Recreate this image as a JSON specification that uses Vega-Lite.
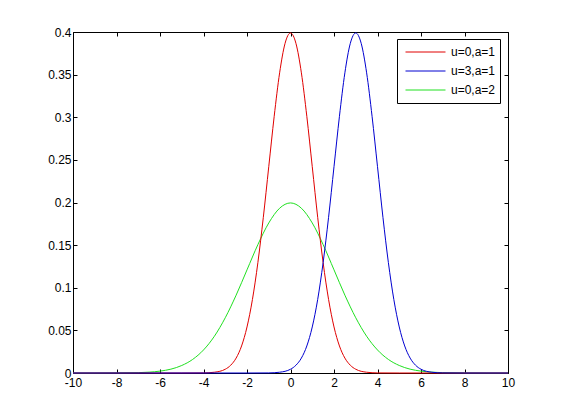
{
  "$schema": "https://vega.github.io/schema/vega-lite/v6.json",
  "width": 435,
  "height": 341,
  "autosize": "none",
  "padding": {"left": 73, "top": 32, "right": 53, "bottom": 47},
  "background": "white",
  "config": {
    "font": "Liberation Sans",
    "view": {"stroke": "black", "strokeWidth": 1},
    "axis": {
      "grid": false,
      "domain": false,
      "title": null,
      "tickColor": "black",
      "tickSize": -4,
      "labelFontSize": 12,
      "labelColor": "black",
      "labelFont": "Liberation Sans",
      "labelFlush": false,
      "labelOverlap": false,
      "labelExpr": "'' + datum.value"
    }
  },
  "data": {
    "values": [
      {"s": "u=0,a=2", "x": -10, "y": 0},
      {"s": "u=0,a=2", "x": -9, "y": 0},
      {"s": "u=0,a=2", "x": -8, "y": 0.0001},
      {"s": "u=0,a=2", "x": -7, "y": 0.0004},
      {"s": "u=0,a=2", "x": -6.5, "y": 0.001},
      {"s": "u=0,a=2", "x": -6, "y": 0.0022},
      {"s": "u=0,a=2", "x": -5.5, "y": 0.0045},
      {"s": "u=0,a=2", "x": -5, "y": 0.0088},
      {"s": "u=0,a=2", "x": -4.5, "y": 0.0159},
      {"s": "u=0,a=2", "x": -4, "y": 0.027},
      {"s": "u=0,a=2", "x": -3.5, "y": 0.0431},
      {"s": "u=0,a=2", "x": -3, "y": 0.0648},
      {"s": "u=0,a=2", "x": -2.5, "y": 0.0913},
      {"s": "u=0,a=2", "x": -2, "y": 0.121},
      {"s": "u=0,a=2", "x": -1.5, "y": 0.1506},
      {"s": "u=0,a=2", "x": -1, "y": 0.176},
      {"s": "u=0,a=2", "x": -0.5, "y": 0.1933},
      {"s": "u=0,a=2", "x": 0, "y": 0.1995},
      {"s": "u=0,a=2", "x": 0.5, "y": 0.1933},
      {"s": "u=0,a=2", "x": 1, "y": 0.176},
      {"s": "u=0,a=2", "x": 1.5, "y": 0.1506},
      {"s": "u=0,a=2", "x": 2, "y": 0.121},
      {"s": "u=0,a=2", "x": 2.5, "y": 0.0913},
      {"s": "u=0,a=2", "x": 3, "y": 0.0648},
      {"s": "u=0,a=2", "x": 3.5, "y": 0.0431},
      {"s": "u=0,a=2", "x": 4, "y": 0.027},
      {"s": "u=0,a=2", "x": 4.5, "y": 0.0159},
      {"s": "u=0,a=2", "x": 5, "y": 0.0088},
      {"s": "u=0,a=2", "x": 5.5, "y": 0.0045},
      {"s": "u=0,a=2", "x": 6, "y": 0.0022},
      {"s": "u=0,a=2", "x": 6.5, "y": 0.001},
      {"s": "u=0,a=2", "x": 7, "y": 0.0004},
      {"s": "u=0,a=2", "x": 8, "y": 0.0001},
      {"s": "u=0,a=2", "x": 9, "y": 0},
      {"s": "u=0,a=2", "x": 10, "y": 0},
      {"s": "u=0,a=1", "x": -10, "y": 0},
      {"s": "u=0,a=1", "x": -5, "y": 0},
      {"s": "u=0,a=1", "x": -4, "y": 0.0001},
      {"s": "u=0,a=1", "x": -3.5, "y": 0.0009},
      {"s": "u=0,a=1", "x": -3, "y": 0.0044},
      {"s": "u=0,a=1", "x": -2.75, "y": 0.0091},
      {"s": "u=0,a=1", "x": -2.5, "y": 0.0175},
      {"s": "u=0,a=1", "x": -2.25, "y": 0.0317},
      {"s": "u=0,a=1", "x": -2, "y": 0.054},
      {"s": "u=0,a=1", "x": -1.75, "y": 0.0863},
      {"s": "u=0,a=1", "x": -1.5, "y": 0.1295},
      {"s": "u=0,a=1", "x": -1.25, "y": 0.1826},
      {"s": "u=0,a=1", "x": -1, "y": 0.242},
      {"s": "u=0,a=1", "x": -0.75, "y": 0.3011},
      {"s": "u=0,a=1", "x": -0.5, "y": 0.3521},
      {"s": "u=0,a=1", "x": -0.25, "y": 0.3867},
      {"s": "u=0,a=1", "x": 0, "y": 0.3989},
      {"s": "u=0,a=1", "x": 0.25, "y": 0.3867},
      {"s": "u=0,a=1", "x": 0.5, "y": 0.3521},
      {"s": "u=0,a=1", "x": 0.75, "y": 0.3011},
      {"s": "u=0,a=1", "x": 1, "y": 0.242},
      {"s": "u=0,a=1", "x": 1.25, "y": 0.1826},
      {"s": "u=0,a=1", "x": 1.5, "y": 0.1295},
      {"s": "u=0,a=1", "x": 1.75, "y": 0.0863},
      {"s": "u=0,a=1", "x": 2, "y": 0.054},
      {"s": "u=0,a=1", "x": 2.25, "y": 0.0317},
      {"s": "u=0,a=1", "x": 2.5, "y": 0.0175},
      {"s": "u=0,a=1", "x": 2.75, "y": 0.0091},
      {"s": "u=0,a=1", "x": 3, "y": 0.0044},
      {"s": "u=0,a=1", "x": 3.5, "y": 0.0009},
      {"s": "u=0,a=1", "x": 4, "y": 0.0001},
      {"s": "u=0,a=1", "x": 5, "y": 0},
      {"s": "u=0,a=1", "x": 10, "y": 0},
      {"s": "u=3,a=1", "x": -10, "y": 0},
      {"s": "u=3,a=1", "x": -2, "y": 0},
      {"s": "u=3,a=1", "x": -1, "y": 0.0001},
      {"s": "u=3,a=1", "x": -0.5, "y": 0.0009},
      {"s": "u=3,a=1", "x": 0, "y": 0.0044},
      {"s": "u=3,a=1", "x": 0.25, "y": 0.0091},
      {"s": "u=3,a=1", "x": 0.5, "y": 0.0175},
      {"s": "u=3,a=1", "x": 0.75, "y": 0.0317},
      {"s": "u=3,a=1", "x": 1, "y": 0.054},
      {"s": "u=3,a=1", "x": 1.25, "y": 0.0863},
      {"s": "u=3,a=1", "x": 1.5, "y": 0.1295},
      {"s": "u=3,a=1", "x": 1.75, "y": 0.1826},
      {"s": "u=3,a=1", "x": 2, "y": 0.242},
      {"s": "u=3,a=1", "x": 2.25, "y": 0.3011},
      {"s": "u=3,a=1", "x": 2.5, "y": 0.3521},
      {"s": "u=3,a=1", "x": 2.75, "y": 0.3867},
      {"s": "u=3,a=1", "x": 3, "y": 0.3989},
      {"s": "u=3,a=1", "x": 3.25, "y": 0.3867},
      {"s": "u=3,a=1", "x": 3.5, "y": 0.3521},
      {"s": "u=3,a=1", "x": 3.75, "y": 0.3011},
      {"s": "u=3,a=1", "x": 4, "y": 0.242},
      {"s": "u=3,a=1", "x": 4.25, "y": 0.1826},
      {"s": "u=3,a=1", "x": 4.5, "y": 0.1295},
      {"s": "u=3,a=1", "x": 4.75, "y": 0.0863},
      {"s": "u=3,a=1", "x": 5, "y": 0.054},
      {"s": "u=3,a=1", "x": 5.25, "y": 0.0317},
      {"s": "u=3,a=1", "x": 5.5, "y": 0.0175},
      {"s": "u=3,a=1", "x": 5.75, "y": 0.0091},
      {"s": "u=3,a=1", "x": 6, "y": 0.0044},
      {"s": "u=3,a=1", "x": 6.5, "y": 0.0009},
      {"s": "u=3,a=1", "x": 7, "y": 0.0001},
      {"s": "u=3,a=1", "x": 8, "y": 0},
      {"s": "u=3,a=1", "x": 10, "y": 0}
    ]
  },
  "layer": [
    {
      "mark": {"type": "line", "strokeWidth": 1, "interpolate": "monotone"},
      "encoding": {
        "x": {
          "field": "x", "type": "quantitative",
          "scale": {"domain": [-10, 10], "nice": false, "zero": false},
          "axis": {"orient": "bottom", "values": [-10, -8, -6, -4, -2, 0, 2, 4, 6, 8, 10], "labelPadding": 8}
        },
        "y": {
          "field": "y", "type": "quantitative",
          "scale": {"domain": [0, 0.4], "nice": false, "zero": false},
          "axis": {"orient": "left", "values": [0, 0.05, 0.1, 0.15, 0.2, 0.25, 0.3, 0.35, 0.4], "labelPadding": 6}
        },
        "color": {
          "field": "s", "type": "nominal",
          "scale": {"domain": ["u=0,a=1", "u=3,a=1", "u=0,a=2"], "range": ["#e00000", "#0000d0", "#20e020"]},
          "legend": {
            "title": null,
            "orient": "none",
            "legendX": 324,
            "legendY": 7,
            "symbolType": "stroke",
            "symbolSize": 1600,
            "symbolStrokeWidth": 1,
            "symbolOffset": 4,
            "clipHeight": 18,
            "labelFontSize": 12,
            "labelColor": "black",
            "labelFont": "Liberation Sans",
            "labelOffset": 5,
            "fillColor": "white",
            "strokeColor": "black",
            "padding": 4,
            "rowPadding": 1
          }
        }
      }
    },
    {
      "mark": {"type": "point", "opacity": 0},
      "encoding": {
        "x": {
          "field": "x", "type": "quantitative",
          "axis": {"orient": "top", "values": [-10, -8, -6, -4, -2, 0, 2, 4, 6, 8, 10], "labels": false}
        },
        "y": {
          "field": "y", "type": "quantitative",
          "axis": {"orient": "right", "values": [0, 0.05, 0.1, 0.15, 0.2, 0.25, 0.3, 0.35, 0.4], "labels": false}
        }
      }
    }
  ],
  "resolve": {"axis": {"x": "independent", "y": "independent"}}
}
